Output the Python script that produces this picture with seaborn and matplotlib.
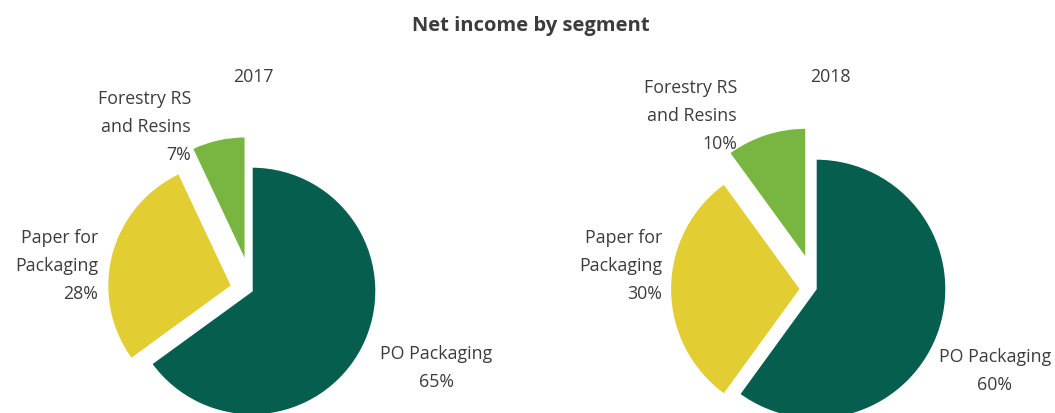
import matplotlib
matplotlib.use("Agg")
import matplotlib.pyplot as plt
import seaborn as sns

sns.set_theme(style="white")
plt.rcParams['font.family'] = ['Open Sans', 'DejaVu Sans']

segments = ["PO Packaging", "Paper for\nPackaging", "Forestry RS\nand Resins"]
years = ["2017", "2018"]
values_2017 = [65, 28, 7]
values_2018 = [60, 30, 10]
explode_2017 = [0, 0.17, 0.25]
explode_2018 = [0, 0.12, 0.25]
colors = ["#055E4E", "#E2CD32", "#78B641"]
text_color = "#3C3C3C"

W, H = 1055, 414
fig = plt.figure(figsize=(W / 100, H / 100), dpi=100)


def set_limits(ax, cx, cy, r):
    # cx, cy in pixels from top-left; r in pixels
    ax.set_aspect('auto')
    ax.set_xlim(-cx / r, (W - cx) / r)
    ybot = H - cy
    ax.set_ylim(-ybot / r, (H - ybot) / r)
    ax.axis('off')


def draw(ax, vals, expl, cx, cy, r, year, lab_pos, year_pos):
    ax.pie(vals, explode=expl, colors=colors, startangle=90, counterclock=False,
           wedgeprops=dict(edgecolor="white", linewidth=1))
    set_limits(ax, cx, cy, r)
    for seg, v, (px, py, ha) in zip(segments, vals, lab_pos):
        x = (px - cx) / r
        y = -(py - cy) / r
        ax.text(x, y, f"{seg}\n{v}%", ha=ha, va="center", fontsize=12.8,
                color=text_color, linespacing=1.68)
    ax.text((year_pos[0] - cx) / r, -(year_pos[1] - cy) / r, year, ha="center",
            va="center", fontsize=12.8, color=text_color)


ax1 = fig.add_axes([0, 0, 1, 1])
ax1.patch.set_alpha(0)
draw(ax1, values_2017, explode_2017, 252, 292, 124, years[0],
     [(436, 368, "center"), (98, 266, "right"), (191, 127, "right")], (253, 77))

ax2 = fig.add_axes([0, 0, 1, 1])
ax2.patch.set_alpha(0)
draw(ax2, values_2018, explode_2018, 816, 290, 130, years[1],
     [(995, 371, "center"), (662, 266, "right"), (737, 116, "right")], (830, 77))

fig.text(531 / W, 1 - 26 / H, "Net income by segment", ha="center", va="center",
         fontsize=14.5, fontweight="bold", color=text_color)

fig.savefig("out.png", dpi=100, facecolor="white")
